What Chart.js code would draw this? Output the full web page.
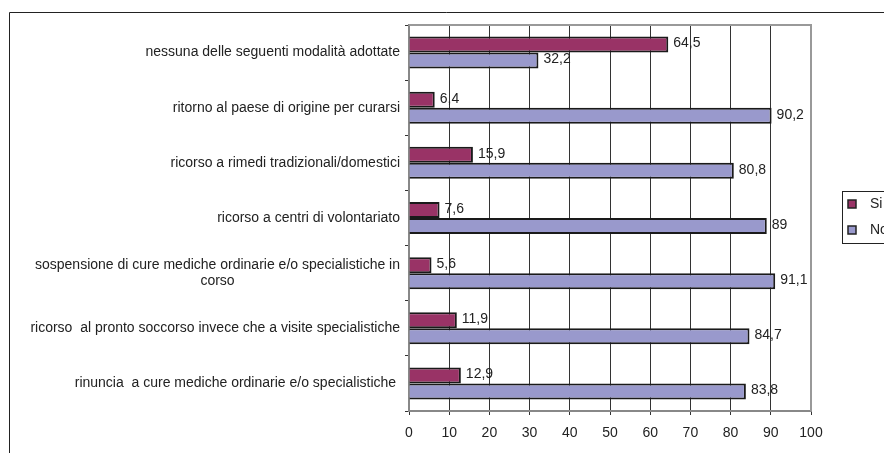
<!DOCTYPE html>
<html>
<head>
<meta charset="utf-8">
<script src="https://cdn.jsdelivr.net/npm/chart.js@4"></script>
<style>
  html, body { margin: 0; padding: 0; background: #fff; }
  #wrap { width: 884px; height: 453px; }
</style>
</head>
<body>
<div id="wrap"><canvas id="chart" width="884" height="453"></canvas></div>
<script>
const categories = [
  ["nessuna delle seguenti modalità adottate"],
  ["ritorno al paese di origine per curarsi"],
  ["ricorso a rimedi tradizionali/domestici"],
  ["ricorso a centri di volontariato"],
  ["sospensione di cure mediche ordinarie e/o specialistiche in", "corso"],
  ["ricorso  al pronto soccorso invece che a visite specialistiche"],
  ["rinuncia  a cure mediche ordinarie e/o specialistiche "]
];
const siValues = [64.5, 6.4, 15.9, 7.6, 5.6, 11.9, 12.9];
const noValues = [32.2, 90.2, 80.8, 89, 91.1, 84.7, 83.8];
const seriesNames = ["Si", "No"];
const xTicks = [0, 10, 20, 30, 40, 50, 60, 70, 80, 90, 100];

const FAMILY = "'Liberation Sans', Arial, sans-serif";
const FONT = "14px " + FAMILY;

const decor = {
  id: "decor",
  beforeDraw(chart) {
    const c = chart.ctx;
    c.save();
    c.strokeStyle = "#222";
    c.lineWidth = 1;
    c.beginPath();
    c.moveTo(9.5, 453);
    c.lineTo(9.5, 12.5);
    c.lineTo(884, 12.5);
    c.stroke();
    c.restore();
  },
  afterDraw(chart) {
    const c = chart.ctx;
    const a = chart.chartArea;
    c.save();
    // gray top and right frame
    c.strokeStyle = "#999";
    c.lineWidth = 2;
    c.beginPath();
    c.moveTo(a.left, a.top);
    c.lineTo(a.right, a.top);
    c.lineTo(a.right, a.bottom);
    c.stroke();

    // category labels
    c.font = FONT;
    c.fillStyle = "#222";
    c.textBaseline = "middle";
    c.textAlign = "center";
    const ys = chart.scales.y;
    categories.forEach((lines, i) => {
      const yc = ys.getPixelForValue(i);
      const w = Math.max(...lines.map(l => c.measureText(l).width));
      const cx = a.left - 9 - w / 2;
      const lh = 16;
      const y0 = yc - (lines.length - 1) * lh / 2;
      lines.forEach((l, k) => c.fillText(l, cx, y0 + k * lh));
    });

    // value labels
    c.textAlign = "left";
    chart.data.datasets.forEach((ds, di) => {
      chart.getDatasetMeta(di).data.forEach((bar, i) => {
        const txt = String(ds.data[i]).replace(".", ",");
        c.fillText(txt, bar.x + 5, bar.y - 1);
      });
    });

    // legend
    const lx = 842, ly = 191, lw = 60, lhgt = 52;
    c.strokeStyle = "#222";
    c.lineWidth = 1;
    c.strokeRect(lx + 0.5, ly + 0.5, lw, lhgt);
    const colors = ["#993366", "#9999cc"];
    seriesNames.forEach((name, k) => {
      const yy = ly + 13 + k * 26;
      c.fillStyle = colors[k];
      c.fillRect(lx + 6, yy - 4, 8, 8);
      c.strokeStyle = "#222";
      c.lineWidth = 1.5;
      c.strokeRect(lx + 6, yy - 4, 8, 8);
      c.fillStyle = "#222";
      c.fillText(name, lx + 28, yy);
    });
    c.restore();
  }
};

new Chart(document.getElementById("chart"), {
  type: "bar",
  data: {
    labels: categories.map(l => l.join(" ")),
    datasets: [
      {
        label: seriesNames[0],
        data: siValues,
        backgroundColor: "#993366",
        borderColor: "#1a1a1a",
        borderWidth: 2,
        categoryPercentage: 0.58,
        barPercentage: 1.0
      },
      {
        label: seriesNames[1],
        data: noValues,
        backgroundColor: "#9999cc",
        borderColor: "#1a1a1a",
        borderWidth: 2,
        categoryPercentage: 0.58,
        barPercentage: 1.0
      }
    ]
  },
  options: {
    indexAxis: "y",
    responsive: false,
    animation: false,
    layout: { padding: { left: 0, top: 25, right: 73, bottom: 0 } },
    plugins: {
      legend: { display: false },
      tooltip: { enabled: false }
    },
    scales: {
      x: {
        min: 0,
        max: 100,
        afterBuildTicks: s => { s.ticks = xTicks.map(v => ({ value: v })); },
        ticks: {
          color: "#222",
          font: { family: FAMILY, size: 14 },
          padding: 10,
          maxRotation: 0
        },
        grid: { color: "#333", lineWidth: 1, tickLength: 4 },
        border: { color: "#888", width: 2 },
        afterFit: s => { s.height = 42; }
      },
      y: {
        offset: true,
        ticks: { display: false },
        grid: { drawOnChartArea: false, color: "#333", tickLength: 4 },
        border: { color: "#888", width: 2 },
        afterFit: s => { s.width = 409; }
      }
    }
  },
  plugins: [decor]
});
</script>
</body>
</html>
